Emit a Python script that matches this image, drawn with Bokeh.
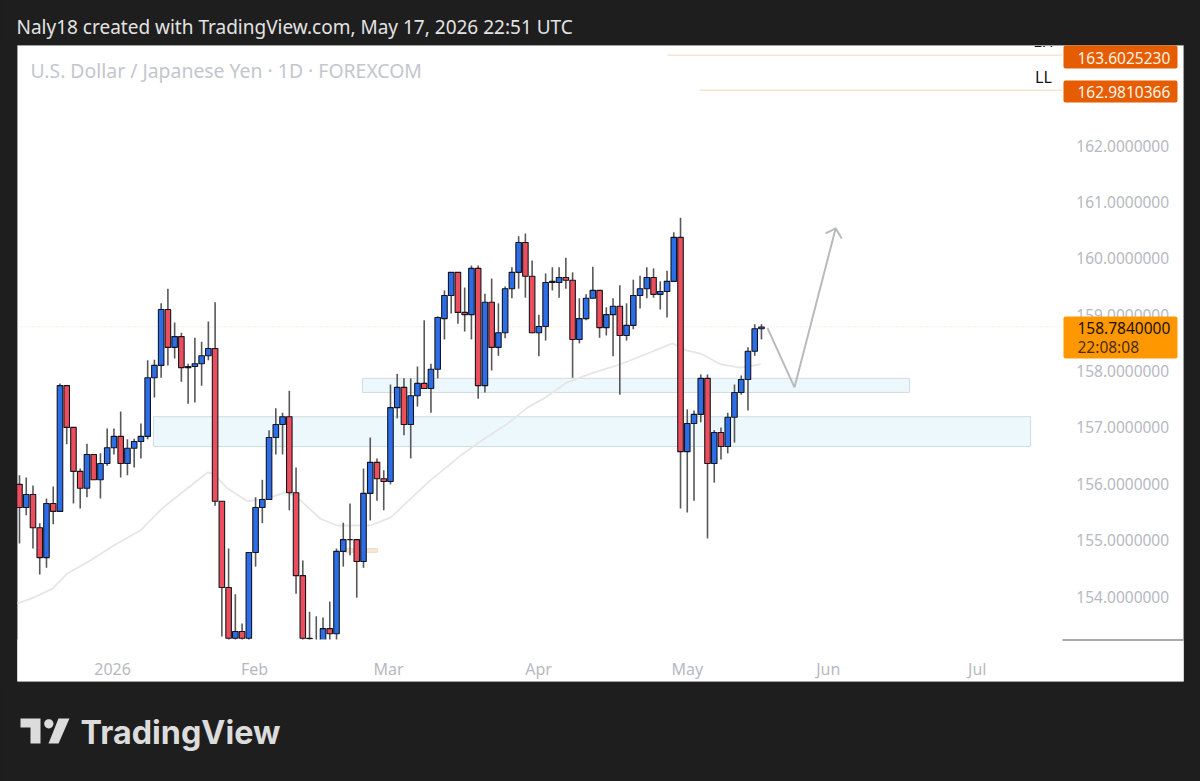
import numpy as np
from bokeh.plotting import figure
from bokeh.models import (BoxAnnotation, Label, PolyAnnotation, FixedTicker, Range1d, ColumnDataSource)
from bokeh.core.properties import value
from bokeh.embed import file_html
from bokeh.resources import INLINE

opens = [155.99,155.58,155.81,155.22,154.69,155.65,155.51,157.74,157.00,156.22,155.92,156.52,156.07,156.36,156.64,156.84,156.36,156.63,156.75,156.84,
157.88,158.10,159.09,158.42,158.61,158.08,158.08,158.13,158.27,158.40,155.69,154.16,153.26,153.38,153.26,154.78,155.58,155.72,156.82,157.05,
157.19,155.84,154.37,153.26,153.10,153.10,153.43,153.34,154.80,155.01,155.01,154.62,155.83,156.38,156.09,156.04,157.35,157.71,157.05,157.56,
157.78,157.69,158.03,158.93,159.34,159.75,159.04,159.00,159.82,157.74,159.22,158.42,158.68,159.46,159.75,160.28,159.68,158.68,158.79,159.57,
159.57,159.66,159.61,158.56,158.93,159.29,159.43,158.77,159.00,159.15,158.63,158.81,159.34,159.46,159.66,159.36,159.41,159.59,160.37,156.57,
157.07,157.23,157.87,156.36,156.91,156.66,157.18,157.62,157.85,158.35,158.75]
highs = [156.15,156.11,155.97,155.30,155.74,155.95,157.78,157.74,157.00,156.27,156.71,156.52,156.54,156.98,156.98,157.28,156.79,156.80,157.07,158.19,
158.20,159.20,159.46,158.86,158.68,158.13,158.59,158.52,158.88,159.22,155.69,154.85,154.04,153.52,154.78,155.76,156.07,156.95,157.34,157.26,
157.65,156.29,154.64,153.73,153.65,153.63,153.91,154.85,155.31,155.65,155.01,156.27,156.82,156.45,156.24,157.76,157.95,157.87,157.87,158.08,
158.90,158.13,158.97,159.43,159.75,159.75,159.48,159.87,159.87,159.37,159.64,159.20,159.50,159.84,160.39,160.44,159.96,159.00,159.73,159.84,
159.84,160.01,159.75,159.29,159.36,159.85,159.43,159.13,159.29,159.52,159.20,159.62,159.69,159.84,159.82,159.59,159.78,160.46,160.72,157.32,
157.30,157.94,157.94,156.95,157.00,157.26,157.76,157.92,158.42,158.83,158.83]
lows = [154.94,155.44,154.85,154.39,154.51,155.28,155.51,156.70,155.65,155.56,155.76,156.07,155.74,156.32,156.52,156.11,156.15,156.29,156.45,156.79,
157.53,157.88,158.10,158.22,157.81,157.42,157.44,157.74,158.19,155.61,153.29,152.90,152.70,152.50,152.60,154.53,155.30,155.72,156.52,156.52,
155.53,154.05,152.90,153.10,152.70,152.90,153.22,153.22,154.53,154.73,153.98,154.51,155.35,155.70,155.53,155.99,157.16,156.86,156.45,157.37,
157.69,157.26,157.87,158.56,159.02,158.84,158.70,158.56,157.51,157.62,158.01,158.27,158.58,159.29,159.46,159.30,158.67,158.26,158.54,159.43,
159.30,159.46,157.88,158.49,158.90,159.29,158.59,158.63,158.26,157.58,158.54,158.74,159.11,159.29,159.30,159.09,158.95,159.59,155.56,155.49,
155.70,157.09,155.03,156.02,156.43,156.54,156.73,157.58,157.30,158.27,158.56]
closes = [155.58,155.81,155.22,154.69,155.65,155.51,157.74,157.00,156.22,155.92,156.52,156.07,156.36,156.64,156.84,156.36,156.63,156.75,156.84,157.88,
158.10,159.09,158.42,158.61,158.06,158.06,158.13,158.27,158.40,155.69,154.16,153.26,153.38,153.26,154.78,155.58,155.72,156.82,157.05,157.19,
155.84,154.37,153.26,153.25,153.15,153.43,153.34,154.80,155.01,155.01,154.62,155.83,156.38,156.09,156.04,157.35,157.71,157.05,157.56,157.78,
157.69,158.03,158.95,159.34,159.75,159.04,159.00,159.82,157.74,159.22,158.42,158.68,159.46,159.75,160.28,159.68,158.68,158.79,159.57,159.59,
159.66,159.61,158.56,158.93,159.29,159.43,158.77,159.00,159.15,158.63,158.81,159.34,159.46,159.66,159.36,159.41,159.59,160.37,156.57,157.07,
157.23,157.87,156.36,156.91,156.66,157.18,157.62,157.85,158.35,158.75,158.78]

ma_index = [-0.3,2.1,4.9,7.1,10.5,13.9,17.9,21.3,24.9,27.9,28.8,30.8,33.8,36.8,39.7,41.7,44.6,47.1,49.1,52.0,55.0,60.9,65.4,68.8,72.4,75.3,77.7,81.2,85.1,89.1,93.1,96.8,99.0,101,103.9,106.9,109.9]
ma_price = [153.88,153.98,154.14,154.41,154.64,154.90,155.17,155.58,155.92,156.20,156.18,155.92,155.69,155.74,155.86,155.70,155.38,155.26,155.26,155.26,155.40,156.06,156.50,156.79,157.07,157.35,157.51,157.80,157.97,158.12,158.31,158.49,158.36,158.31,158.12,158.06,158.12]

arrow_index = [110.9,114.9,121.0]
arrow_price = [158.76,157.71,160.53]
head_index = [119.5,121.0,121.9]
head_price = [160.44,160.53,160.35]

price_ticks = [154,155,156,157,158,159,160,161,162]
time_ticks = [13.8,34.84,54.7,76.95,99.0,119.9,142.0]
time_labels = ["2026","Feb","Mar","Apr","May","Jun","Jul"]

zones = [(50.85,131.95,157.87,157.62),(19.87,149.9,157.19,156.66)]
level_hi, level_lo, last_price = 163.6025230, 162.9810366, 158.7840000
level_hi_start, level_lo_start = 96.07, 100.8

DARK = "#1e1e1e"
GREY = "#b6b9c1"
UI_FONT = "Noto Sans"
X_RIGHT_PANE = 154.6     # bar index where the price scale begins
Y_BOTTOM_PANE = 153.237  # price where the time scale begins

n = len(opens)
idx = np.arange(n)
o, h, l, c = map(np.array, (opens, highs, lows, closes))
up = c >= o
src = ColumnDataSource(dict(x=idx, top=np.maximum(o, c), bottom=np.minimum(o, c), high=h, low=l,
                            color=np.where(up, "#2b6ee8", "#ec4e5c").tolist()))

# the frame fills the page: the dark chrome and the white pane are painted inside it
x0, x1 = -2.817, 175.09
y0, y1 = 150.719, 164.572
p = figure(width=1200, height=781, output_backend="svg", toolbar_location=None,
           x_range=Range1d(x0, x1), y_range=Range1d(y0, y1),
           y_axis_location="right", min_border_left=0, min_border_right=0,
           min_border_top=0, min_border_bottom=0)
p.border_fill_color = DARK
p.background_fill_color = DARK
p.outline_line_color = None
p.grid.visible = False


def px(x):
    return (x - 19) / 6.745


def py(y):
    return 164.572 - 0.017738 * y


def box(l_, t_, r_, b_, **kw):
    return BoxAnnotation(left=l_, right=r_, top=t_, bottom=b_, left_units="canvas", right_units="canvas",
                         top_units="canvas", bottom_units="canvas", fill_alpha=1, **kw)


def label(x, y, text, size, color, font=UI_FONT, align="left", baseline="middle", style="normal"):
    return Label(x=x, y=y, x_units="canvas", y_units="canvas", text=text, text_font=font,
                 text_font_size=size, text_color=color, text_align=align, text_baseline=baseline,
                 text_font_style=style)


# white pane
p.quad(left=px(17), right=px(1183), top=py(45), bottom=py(681), fill_color="white", line_color="#a3a3a3", line_width=1)

for zl, zr, zt, zb in zones:
    p.quad(left=zl, right=zr, top=zt, bottom=zb, fill_color="#ecf8fc", line_color="#cfdde0", line_width=1)

p.quad(left=48.3, right=53.1, top=154.85, bottom=154.78, fill_color="#f6e7d4", line_color="#f0dfc8", line_width=1)
p.line(ma_index, ma_price, line_color="#e6e6e6", line_width=1.8)

p.line([px(17), X_RIGHT_PANE], [last_price]*2, line_color="#f7c48a", line_width=1, line_dash="1 2", line_alpha=0.6)
p.line([level_hi_start, X_RIGHT_PANE], [level_hi]*2, line_color="#efd9bd", line_width=1)
p.line([level_lo_start, X_RIGHT_PANE], [level_lo]*2, line_color="#efd9bd", line_width=1)

p.segment(x0="x", x1="x", y0="low", y1="high", source=src, line_color="#585858", line_width=1.6)
p.vbar(x="x", top="top", bottom="bottom", width=0.82, source=src, fill_color="color", line_color="#15151f", line_width=1.1)

p.line(arrow_index, arrow_price, line_color="#b9babd", line_width=2)
p.line(head_index, head_price, line_color="#b9babd", line_width=2)

p.text(x=[151.8], y=[163.845], text=["LH"], text_font=value(UI_FONT), text_font_size="16px", text_color="#111111",
       text_align="center", text_baseline="middle")
p.text(x=[151.8], y=[163.22], text=["LL"], text_font=value(UI_FONT), text_font_size="16px", text_color="#111111",
       text_align="center", text_baseline="middle")

# the parts of the candles and labels beyond the pane are cut off, as the chart pane does
p.quad(left=px(17), right=px(1183), top=Y_BOTTOM_PANE, bottom=py(681), fill_color="white", line_color=None)
p.quad(left=x0, right=x1, top=py(681), bottom=y0, fill_color=DARK, line_color=None)
p.quad(left=x0, right=x1, top=y1, bottom=py(45), fill_color=DARK, line_color=None)
p.line([px(17), px(1183)], [py(681)]*2, line_color="#a3a3a3", line_width=1)
p.line([px(17), px(1183)], [py(45)]*2, line_color="#a3a3a3", line_width=1)

ax = p.yaxis[0]
ax.fixed_location = X_RIGHT_PANE
ax.ticker = FixedTicker(ticks=price_ticks)
ax.major_label_overrides = {t: f"{t:.7f}" for t in price_ticks}
ax.axis_line_color = None
ax.major_tick_line_color = None
ax.minor_tick_line_color = None
ax.major_label_text_color = GREY
ax.major_label_text_font = UI_FONT
ax.major_label_text_font_size = "15.5px"
ax.major_label_standoff = 8

xa = p.xaxis[0]
xa.fixed_location = Y_BOTTOM_PANE
xa.ticker = FixedTicker(ticks=time_ticks)
xa.major_label_overrides = dict(zip(time_ticks, time_labels))
xa.axis_line_color = None
xa.major_tick_line_color = None
xa.minor_tick_line_color = None
xa.major_label_text_color = GREY
xa.major_label_text_font = UI_FONT
xa.major_label_text_font_size = "16px"
xa.major_label_standoff = 12

p.add_layout(box(1062, 639, 1183, 640, fill_color="#555555", line_color=None))

# price tags
p.add_layout(box(1063, 45, 1177, 68, fill_color="#e65c00", line_color=None, border_radius=2))
p.add_layout(label(1077, 57, f"{level_hi:.7f}", "15.5px", "#fff3e6"))
p.add_layout(box(1063, 80, 1177, 102, fill_color="#e65c00", line_color=None, border_radius=2))
p.add_layout(label(1077, 91, f"{level_lo:.7f}", "15.5px", "#fff3e6"))
p.add_layout(box(1063, 316, 1177, 358, fill_color="#ff9800", line_color=None, border_radius=2))
p.add_layout(label(1077, 327, f"{last_price:.7f}", "15.5px", "#1a1206"))
p.add_layout(label(1077, 346, "22:08:08", "15.5px", "#4a2d05"))

# header and legend
p.add_layout(label(16, 26, "Naly18 created with TradingView.com, May 17, 2026 22:51 UTC", "19px", "#e3e3e3"))
p.add_layout(label(30, 70, "U.S. Dollar / Japanese Yen \u00b7 1D \u00b7 FOREXCOM", "19.4px", "#c3c6cd"))

# brand mark
LOGO = "#dcdcdc"
for xs, ys in [([20, 40, 40, 30, 30, 20], [718, 718, 743, 743, 727, 727]), ([58, 69, 58, 48], [718, 718, 743, 743])]:
    p.add_layout(PolyAnnotation(xs=xs, ys=ys, xs_units="canvas", ys_units="canvas",
                                fill_color=LOGO, fill_alpha=1, line_color=None))
th = np.linspace(0, 2*np.pi, 24, endpoint=False)
p.add_layout(PolyAnnotation(xs=(48.3+4.6*np.cos(th)).tolist(), ys=(723.3+4.6*np.sin(th)).tolist(),
                            xs_units="canvas", ys_units="canvas", fill_color=LOGO, fill_alpha=1, line_color=None))
p.add_layout(label(80, 732, "TradingView", "32.3px", LOGO, font="Inter", style="bold"))

html = file_html(p, INLINE)
html = html.replace("<head>", f"<head><style>html,body{{background:{DARK};}}</style>", 1)
open("out.html", "w").write(html)
